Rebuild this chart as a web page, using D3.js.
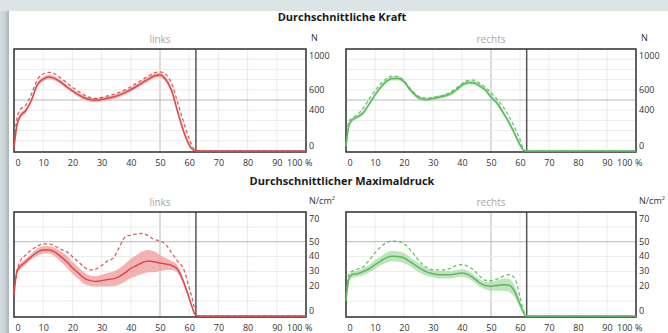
<!DOCTYPE html>
<html><head><meta charset="utf-8">
<script src="https://cdn.jsdelivr.net/npm/d3@7"></script>
<style>
html,body{margin:0;padding:0;background:#dde4e8;}
svg{display:block;font-family:"Open Sans",sans-serif;}
</style>
</head><body>
<svg id="c" width="668" height="333"></svg>
<script>
// ---- data ----
const pct = [0,1,2,4,6,8,10,12,14,16,18,20,22,24,26,28,30,32,34,36,38,40,42,44,46,48,50,52,54,56,58,60,61,62,63,100];

const forceLinksMean = [30,250,335,395,500,650,705,725,710,675,630,590,553,522,505,500,505,518,530,548,572,603,635,670,705,735,745,700,590,390,200,60,20,0,0,0];
const forceLinksSd   = [10,25,25,22,22,22,22,22,22,20,20,20,20,20,20,20,20,20,20,20,20,20,20,20,22,22,22,25,30,30,28,20,10,0,0,0];
const forceLinksRef  = [60,320,400,450,560,700,755,770,755,715,670,625,585,550,525,515,525,540,555,575,600,630,665,700,735,765,775,750,660,480,290,120,50,10,0,0];

const forceRechtsMean = [40,250,300,335,376,460,550,625,685,712,712,680,605,545,510,505,515,528,540,560,598,645,670,668,640,600,530,473,385,290,180,60,15,0,0,0];
const forceRechtsSd   = [10,25,22,20,20,20,20,20,20,20,20,20,20,20,20,18,18,18,18,18,20,20,20,20,20,22,22,22,25,25,25,20,10,0,0,0];
const forceRechtsRef  = [60,290,320,360,420,510,590,660,710,735,728,690,615,555,525,520,525,535,550,575,615,660,690,695,665,625,570,510,440,350,240,110,30,0,0,0];

const pressLinksMean = [14,30,33,36.5,40,43,44.5,44.5,43,40,36.7,32.5,29,25.5,23.8,23.3,23.8,24.5,25,26.5,29,32,34,36,37,36.5,35.6,35,34,31.5,23.3,12,6,1,0,0];
const pressLinksSd   = [1,2,2,2,2,2.5,2.5,2.5,3,3.5,4,4,4,4,3.5,3.5,4,4.5,5,5.5,6,6.5,7,7.5,7.5,7,5.5,4,3,2.5,2,1.5,1,0,0,0];
const pressLinksRef  = [17,30,36.5,41,44.5,47,48.5,48.5,47,45,43.3,40,36.5,33,31,31.5,34,37,39,46,53,54.5,55.2,55.6,54,51.5,50.5,48,42.5,37,32,19,12,4,0,0];

const pressRechtsMean = [10,25,27.8,28.5,30,31.8,34.5,37,39.3,40.2,40,39,36.7,34,31.5,29.5,28.5,27.8,27.8,27.8,28.5,29,28,25.5,22.5,20.5,20,20.5,21,20.8,17,8,3,0,0,0];
const pressRechtsSd   = [1,2,2,2,2.5,2.5,3,3,3.5,3.5,3.5,3.5,3,3,3,2.5,2.5,2.5,2.5,2.5,2.5,2.5,2.5,2.5,2.5,2.5,3,3.5,4,4.5,4,2.5,1,0,0,0];
const pressRechtsRef  = [14,28,30,31.5,33.3,37.5,42.5,46.5,49.5,50.5,50,48.7,45,40,35.5,32.5,31,31,31,32,34,34.5,33.5,31,27,24,23.8,24.8,26.5,27.8,26,13,5,1,0,0];

const xTicks = [0,10,20,30,40,50,60,70,80,90,100];
const forceTicks = [0,400,600,1000];
const pressTicks = [0,20,30,40,50,70];
const forceGrid = d3.range(0,1001,100);
const pressGrid = d3.range(0,71,10);
const titles = ["Durchschnittliche Kraft","Durchschnittlicher Maximaldruck"];
const sides = ["links","rechts"];
const units = ["N","N/cm²"];
const refMarks = {x:50, force:500, press:50, divider:62.3};

// ---- drawing ----
const svg = d3.select("#c");
const defs = svg.append("defs");
const g = defs.append("linearGradient").attr("id","shadow").attr("x1","0").attr("x2","1");
g.append("stop").attr("offset","0").attr("stop-color","#d3dbdf");
g.append("stop").attr("offset","0.55").attr("stop-color","#c9d1d5");
g.append("stop").attr("offset","1").attr("stop-color","#aab3b8");
svg.append("rect").attr("width",668).attr("height",333).attr("fill","#dde4e8");
svg.append("rect").attr("x",0).attr("y",11).attr("width",9).attr("height",322).attr("fill","url(#shadow)");
svg.append("rect").attr("x",9).attr("y",11).attr("width",659).attr("height",322).attr("fill","#fff");

const red = {line:"#dc4a4a", band:"#f09a9a"};
const green = {line:"#5cba5c", band:"#a9dca9"};

const panels = [
  {row:0,col:0,mean:forceLinksMean,sd:forceLinksSd,ref:forceLinksRef,c:red,max:1000,ticks:forceTicks,grid:forceGrid,refY:refMarks.force},
  {row:0,col:1,mean:forceRechtsMean,sd:forceRechtsSd,ref:forceRechtsRef,c:green,max:1000,ticks:forceTicks,grid:forceGrid,refY:refMarks.force},
  {row:1,col:0,mean:pressLinksMean,sd:pressLinksSd,ref:pressLinksRef,c:red,max:70,ticks:pressTicks,grid:pressGrid,refY:refMarks.press},
  {row:1,col:1,mean:pressRechtsMean,sd:pressRechtsSd,ref:pressRechtsRef,c:green,max:70,ticks:pressTicks,grid:pressGrid,refY:refMarks.press},
];
const colX = [[14,306],[346,636]];
const rowY = [[49,152],[212,317]];

// row titles
[18.5,182].forEach((ty,i)=>{
  svg.append("text").attr("x",342).attr("y",ty).attr("text-anchor","middle")
    .attr("dominant-baseline","middle").attr("font-size",11).attr("font-weight",700)
    .attr("fill","#1a1a1a").text(titles[i]);
});

panels.forEach(p=>{
  const [x0,x1] = colX[p.col];
  const [yt,yb] = rowY[p.row];
  const x = d3.scaleLinear().domain([0,100]).range([x0,x1]);
  const y = d3.scaleLinear().domain([0,p.max]).range([yb-1,yt]);
  const gp = svg.append("g");

  // subtitle and unit
  gp.append("text").attr("x",(x0+x1)/2).attr("y",yt-9).attr("text-anchor","middle")
    .attr("dominant-baseline","middle").attr("font-size",10).attr("fill","#a8a8a8").text(sides[p.col]);
  gp.append("text").attr("x",x1+(p.row?3:5)).attr("y",yt-10).attr("dominant-baseline","middle")
    .attr("font-size",9).attr("fill","#333").text(units[p.row]);

  // grid
  gp.append("g").selectAll("line").data(xTicks.slice(1,-1)).join("line")
    .attr("x1",d=>x(d)).attr("x2",d=>x(d)).attr("y1",yt).attr("y2",yb)
    .attr("stroke",d=>d===refMarks.x?"#b8b8b8":"#ebebeb").attr("stroke-width",1);
  gp.append("g").selectAll("line").data(p.grid.slice(1,-1)).join("line")
    .attr("x1",x0).attr("x2",x1).attr("y1",d=>y(d)).attr("y2",d=>y(d))
    .attr("stroke",d=>d===p.refY?"#b8b8b8":"#ebebeb").attr("stroke-width",1);

  // band
  const idx = d3.range(pct.length);
  gp.append("path").datum(idx)
    .attr("d", d3.area().curve(d3.curveMonotoneX)
      .x(i=>x(pct[i])).y0(i=>y(Math.max(0,p.mean[i]-p.sd[i]))).y1(i=>y(p.mean[i]+p.sd[i])))
    .attr("fill",p.c.band).attr("opacity",0.75);

  // divider
  gp.append("line").attr("x1",x(refMarks.divider)).attr("x2",x(refMarks.divider))
    .attr("y1",yt).attr("y2",yb).attr("stroke","#555").attr("stroke-width",1.5);

  // frame
  gp.append("rect").attr("x",x0).attr("y",yt).attr("width",x1-x0).attr("height",yb-yt)
    .attr("fill","none").attr("stroke","#3a3a3a").attr("stroke-width",1.6);

  // lines
  const ln = d3.line().curve(d3.curveMonotoneX).x(i=>x(pct[i]));
  gp.append("path").datum(idx).attr("d", ln.y(i=>y(p.ref[i])))
    .attr("fill","none").attr("stroke",p.c.line).attr("stroke-width",1.3).attr("stroke-dasharray","3.5,2.5").attr("opacity",0.9);
  gp.append("path").datum(idx).attr("d", ln.y(i=>y(p.mean[i])))
    .attr("fill","none").attr("stroke",p.c.line).attr("stroke-width",1.5);

  // x axis
  const ax = gp.append("g").attr("transform",`translate(0,${yb+11})`)
    .call(d3.axisBottom(x).tickValues(xTicks).tickSize(0).tickPadding(0).tickFormat(d3.format("d")));
  ax.select(".domain").remove();
  ax.selectAll("text").attr("font-size",9).attr("fill","#333").attr("font-family","Open Sans")
    .attr("dy","0.32em").attr("y",0);
  ax.selectAll(".tick").filter(d=>d===0).select("text").attr("text-anchor","start").attr("x",1);
  ax.selectAll(".tick").filter(d=>d===100).select("text").attr("text-anchor","end").attr("x",-4);
  gp.append("text").attr("x",x1-1).attr("y",yb+11).attr("dy","0.32em")
    .attr("font-size",9).attr("fill","#333").text("%");

  // y axis
  const ay = gp.append("g").attr("transform",`translate(${x1+3},0)`)
    .call(d3.axisRight(y).tickValues(p.ticks).tickSize(0).tickPadding(0).tickFormat(d3.format("d")));
  ay.select(".domain").remove();
  ay.selectAll(".tick").attr("transform",d=>`translate(0,${Math.min(yb-6,Math.max(yt+7,y(d)))})`);
  ay.selectAll("text").attr("font-size",9).attr("fill","#333").attr("font-family","Open Sans");
});
</script>
</body></html>
